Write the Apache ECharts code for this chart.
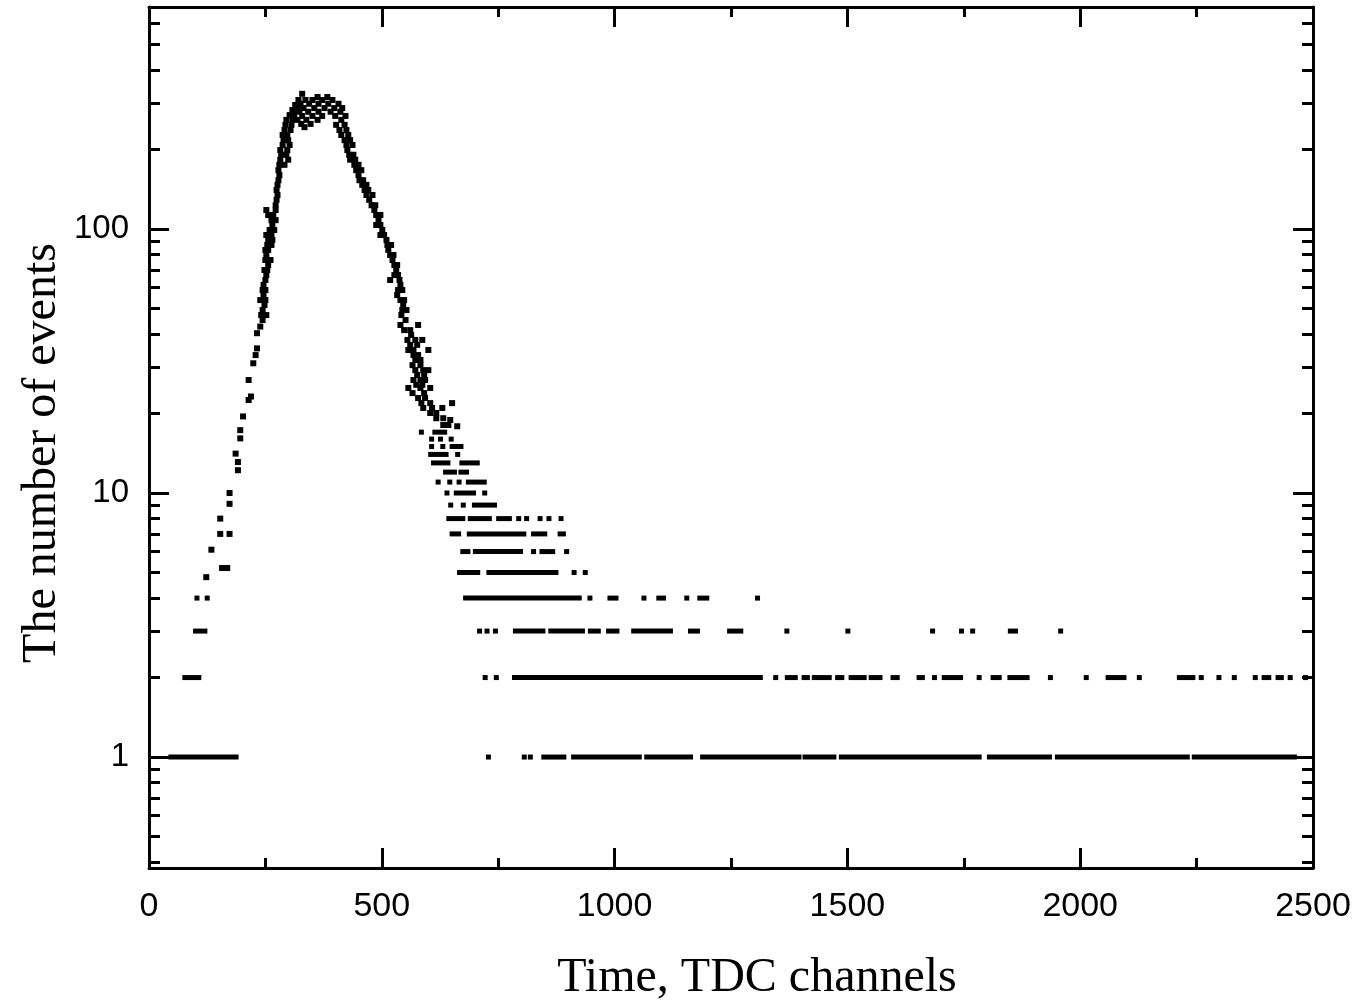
<!DOCTYPE html>
<html>
<head>
<meta charset="utf-8">
<script src="https://cdn.jsdelivr.net/npm/echarts@6/dist/echarts.min.js"></script>
<style>html,body{margin:0;padding:0;background:#fff}#c{width:1357px;height:1005px}</style>
</head>
<body>
<div id="c"></div>
<script>
// ---- axis ticks / labels ----
const xMin = 0, xMax = 2500, xInterval = 500;
const yMin = 0.38, yMax = 693;
const yMajorTicks = [1, 10, 100];
const yMinorTicks = [0.4,0.5,0.6,0.7,0.8,0.9,2,3,4,5,6,7,8,9,20,30,40,50,60,70,80,90,200,300,400,500,600];
const xTitle = 'Time, TDC channels';
const yTitle = 'The number of events';

// ---- rising edge (low counts): [channel, events] ----
const risePoints = [
  [123,4.8],[157,5.2],[168,5.2],[134,6.1],[153,7],[173,7],[153,8],[173,9.1],[173,10],
  [191,12.2],[191,13.1],[186,14.1],[196,16.1],[196,17.3],[202,19.5],[214,22.5],[219,23.2],
  [214,26.8],[224,31],[229,33.3],[232,35.3],[232,40.3],[239,42.7]
];
// ---- left flank of the peak ----
const leftFlank = [
  [244,45.2],[241,47.2],[252,47.2],[244,49.3],[248,51.5],[239,53.8],[250,53.8],[246,56.2],
  [250,58.7],[244,58.7],[246,61.4],[250,64.1],[252,66.9],[254,69.9],[248,69.9],[256,73],
  [250,76.3],[261,76.3],[252,79.7],[250,83.3],[256,83.3],[254,87],[263,87],[256,90.9],
  [265,90.9],[263,94.9],[252,94.9],[259,99.1],[269,99.1],[265,103.5],[263,108],[272,108],
  [267,113],[256,113],[252,118],[272,118],[272,123],[274,129],[276,134.5],[274,140.5],
  [276,147],[278,153],[280,160],[278,167],[280,175],[291,175],[282,183],[299,183],[284,191],
  [295,191],[282,199],[297,199],[287,208],[302,208],[289,217],[299,217],[287,227],[297,227],
  [291,237],[304,237],[293,248],[306,248],[295,259],[308,259],[302,270],[312,270],[308,282],
  [319,282],[314,295],[325,295],[321,308]
];
// ---- top of the peak ----
const peakTop = [
  [362,316],[383,316],[336,308],[351,308],[372,308],[394,308],[325,298],[344,298],[364,298],
  [385,298],[407,298],[332,287],[355,287],[377,287],[398,287],[415,287],[323,278],[342,278],
  [364,278],[390,278],[411,278],[329,268],[351,268],[372,268],[400,268],[422,268],[319,259],
  [338,259],[362,259],[327,250],[347,250],[334,243],[329,325]
];
// ---- right flank of the peak ----
const rightFlank = [
  [413,259],[402,248],[420,248],[409,237],[424,237],[413,227],[428,227],[420,217],[432,217],
  [424,208],[437,208],[426,199],[430,191],[439,191],[432,183],[443,183],[441,175],[450,175],
  [445,167],[456,167],[450,160],[452,153],[460,153],[458,147],[467,147],[463,140.5],[471,140.5],
  [467,134.5],[480,134.5],[473,129],[478,123],[486,123],[484,118],[488,113],[497,113],[493,108],
  [497,103.5],[488,103.5],[501,99.1],[505,94.9],[497,94.9],[510,90.9],[512,87],[520,87],
  [514,83.3],[518,79.7],[525,79.7],[523,76.3],[527,73],[533,73],[531,69.9],[535,66.9],
  [527,66.9],[518,64.1],[538,64.1],[540,61.4],[535,58.7],[544,58.7],[533,56.2],[540,53.8],
  [548,53.8],[546,51.5],[544,49.3],[553,49.3],[542,47.2],[551,45.2],[540,43.3],[578,43.3],
  [548,41.4],[561,41.4],[563,39.7],[555,38],[572,38],[587,38],[561,36.4],[576,36.4],[557,34.8],
  [568,34.8],[600,34.8],[568,33.3],[578,33.3],[572,31.9],[583,31.9],[566,30.5],[583,30.5],
  [572,29.2],[589,29.2],[600,29.2],[576,28],[591,28],[568,26.8],[583,26.8],[593,26.8],
  [574,25.7],[587,25.7],[557,25],[583,25],[604,25],[566,23.9],[591,23.9],[578,22.9],[593,22.9],
  [585,21.9],[604,21.9],[651,21.9],[589,21],[608,21],[630,21],[604,20.1],[617,20.1],[617,19.2],
  [632,19.2],[647,18.9],[632,18.1],[643,18.1],[662,17.9]
];

// ---- tail: runs of consecutive occupied channels at each integer level: [first, last] ----
const runs1 = [[47,187],[729,729],[806,806],[819,819],[848,891],[912,1053],[1069,1163],[1189,1396],[1409,1471],[1487,1783],[1805,1934],[1951,2230],[2245,2460]];
const runs2 = [[77,107],[722,722],[746,746],[785,1313],[1346,1346],[1371,1388],[1407,1414],[1429,1461],[1479,1488],[1508,1536],[1551,1570],[1598,1607],[1654,1661],[1687,1687],[1708,1743],[1783,1783],[1813,1826],[1849,1886],[1936,1936],[2013,2013],[2060,2094],[2127,2127],[2213,2242],[2260,2260],[2298,2298],[2331,2331],[2376,2376],[2395,2405],[2425,2432],[2451,2451],[2484,2484]];
const runs3 = [[100,120],[710,710],[726,726],[744,744],[787,846],[863,931],[948,965],[987,1005],[1041,1120],[1163,1178],[1247,1271],[1370,1370],[1501,1501],[1683,1683],[1745,1745],[1769,1769],[1850,1861],[1958,1958]];
const runs4 = [[103,103],[125,125],[680,924],[947,947],[990,1003],[1063,1063],[1095,1105],[1155,1155],[1183,1198],[1307,1307]];
const runs5 = [[667,706],[730,874],[913,913],[937,937]];
const runs6 = [[674,685],[701,798],[826,826],[844,867],[897,897]];
const runs7 = [[651,665],[688,805],[826,850],[883,890]];
const runs8 = [[644,674],[690,731],[751,774],[794,794],[811,811],[840,840],[859,859],[885,885]];
const runs9 = [[648,648],[675,675],[699,742]];
const runs10 = [[640,640],[660,697],[721,721]];
const runs11 = [[621,621],[646,646],[666,666],[686,720]];
const runs12 = [[637,656],[670,682]];
const runs13 = [[611,642],[672,705]];
const runs14 = [[605,638],[663,663]];
const runs15 = [[607,607],[631,631],[651,670]];
const runs16 = [[607,607],[626,626],[649,649]];
const runs17 = [[585,585],[614,635]];

const levelRuns = [runs1,runs2,runs3,runs4,runs5,runs6,runs7,runs8,runs9,runs10,runs11,runs12,runs13,runs14,runs15,runs16,runs17];
const runData = [];
levelRuns.forEach((runs, i) => runs.forEach(r => runData.push([r[0], r[1], i + 1])));
const scatterData = risePoints.concat(leftFlank, peakTop, rightFlank);

const MS = 5; // marker size px
const sansFont = '"Liberation Sans", Arial, sans-serif';
const serifFont = '"Liberation Serif", "Times New Roman", serif';
const lineStyle = { color: '#000', width: 3 };

function yAxisDef(position, ticks, len, labels) {
  return {
    type: 'log', logBase: 10, min: yMin, max: yMax, position: position, offset: 0,
    axisLine: { show: labels !== null, lineStyle: lineStyle },
    axisTick: { show: true, inside: true, length: len, lineStyle: lineStyle, customValues: ticks },
    axisLabel: labels ? { show: true, customValues: ticks, fontSize: 33, fontFamily: sansFont, color: '#000', margin: 20, formatter: v => String(v) } : { show: false },
    minorTick: { show: false }, splitLine: { show: false }
  };
}
function xAxisDef(position, showLabel) {
  return {
    type: 'value', min: xMin, max: xMax, interval: xInterval, position: position,
    axisLine: { show: true, onZero: false, lineStyle: lineStyle },
    axisTick: { show: true, inside: true, length: 20, lineStyle: lineStyle },
    minorTick: { show: true, splitNumber: 2, length: 10, lineStyle: lineStyle },
    axisLabel: { show: showLabel, fontSize: 34, fontFamily: sansFont, color: '#000', margin: 22, formatter: v => String(v) },
    splitLine: { show: false }, minorSplitLine: { show: false }
  };
}

const chart = echarts.init(document.getElementById('c'), null, { renderer: 'canvas' });
chart.setOption({
  animation: false,
  backgroundColor: '#fff',
  grid: { left: 149, right: 44, top: 7, bottom: 137, containLabel: false },
  xAxis: [xAxisDef('bottom', true), xAxisDef('top', false)],
  yAxis: [
    yAxisDef('left', yMajorTicks, 20, true),
    yAxisDef('left', yMinorTicks, 11, null),
    yAxisDef('right', yMajorTicks, 20, false),
    yAxisDef('right', yMinorTicks, 11, null)
  ],
  series: [
    {
      type: 'scatter', xAxisIndex: 0, yAxisIndex: 0, data: scatterData,
      symbol: 'rect', symbolSize: 6, itemStyle: { color: '#000', opacity: 1 }, silent: true
    },
    {
      type: 'custom', xAxisIndex: 0, yAxisIndex: 0, data: runData,
      encode: { x: [0, 1], y: 2 }, silent: true,
      renderItem: function (params, api) {
        const a = api.coord([api.value(0), api.value(2)]);
        const b = api.coord([api.value(1), api.value(2)]);
        return { type: 'rect', shape: { x: a[0] - MS / 2, y: a[1] - MS / 2, width: b[0] - a[0] + MS, height: MS }, style: { fill: '#000', opacity: 1 } };
      }
    }
  ],
  graphic: [
    { type: 'text', x: 757, y: 978, style: { text: xTitle, font: '48px ' + serifFont, fill: '#000', textAlign: 'center', textVerticalAlign: 'middle' } },
    { type: 'text', x: 42, y: 453, rotation: Math.PI / 2, style: { text: yTitle, font: '48px ' + serifFont, fill: '#000', textAlign: 'center', textVerticalAlign: 'middle' } }
  ]
});
</script>
</body>
</html>
